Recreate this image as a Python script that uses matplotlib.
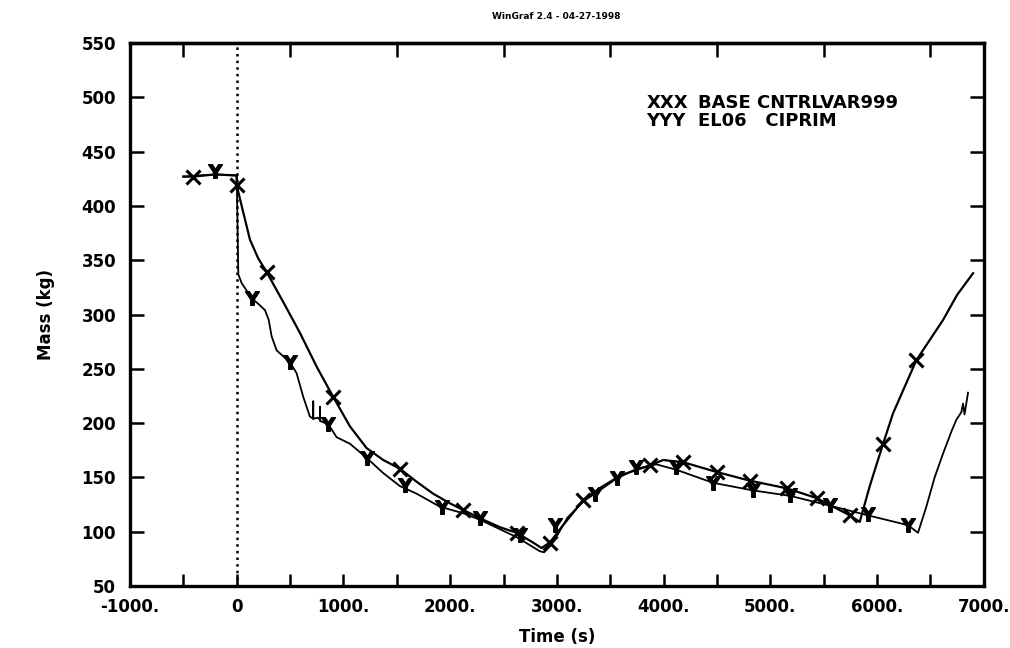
import numpy as np
import matplotlib
matplotlib.use('Agg')
import matplotlib.pyplot as plt

plt.rcParams['font.family'] = ['DejaVu Sans']
plt.rcParams['font.weight'] = 'bold'

# BASE CNTRLVAR999 (XXX)
base_t = [-500, -410, -200, 0, 0, 49, 124, 200, 281, 450, 593, 749, 905, 1061, 1217, 1373,
          1529, 1686, 1841, 2000, 2122, 2310, 2470, 2623, 2777, 2856, 2934, 3050, 3247, 3400,
          3600, 3871, 3996, 4183, 4496, 4808, 5152, 5433, 5745, 5838, 5932, 6057, 6150, 6369,
          6619, 6750, 6900]
base_m = [427, 427, 429, 428, 419, 399, 369, 352, 339, 309, 283, 252, 224, 197, 177, 166,
          158, 146, 135, 126, 120, 111, 104, 99, 90, 85, 90, 105, 129, 140,
          152, 161, 166, 164, 155, 147, 140, 131, 115, 109, 142, 181, 209, 258,
          295, 318, 338]
base_mk_t = [-410, 0, 281, 905, 1529, 2122, 2623, 2934, 3247, 3871, 4183, 4496, 4808, 5152,
             5433, 5745, 6057, 6369]
base_mk_m = [427, 419, 339, 224, 158, 120, 99, 90, 129, 161, 164, 155, 147, 140,
             131, 115, 181, 258]

# EL06 CIPRIM (YYY)
el06_t = [-500, -200, 0, 15, 46, 140, 200, 265, 300, 327, 374, 499, 561, 624, 686, 717, 717,
          717, 760, 780, 780, 780, 858, 936, 1061, 1217, 1373, 1529, 1686, 1904, 2122, 2279,
          2623, 2841, 2880, 2950, 3000, 3100, 3250, 3400, 3560, 3750, 3933, 4120, 4464, 4839,
          5185, 5558, 5917, 6291, 6384, 6462, 6540, 6619, 6700, 6743, 6790, 6806, 6820, 6853]
el06_m = [427, 429, 428, 337, 329, 315, 310, 304, 295, 280, 267, 256, 246, 224, 206, 204, 220,
          204, 205, 203, 215, 202, 199, 187, 181, 168, 154, 142, 135, 123, 117, 111,
          95, 82, 81, 88, 96, 113, 128, 138, 149, 158, 162, 157, 145, 138,
          133, 124, 115, 106, 99, 123, 150, 172, 193, 203, 210, 218, 208, 228]
el06_mk_t = [-204, 140, 499, 858, 1217, 1576, 1920, 2279, 2650, 2981, 3356, 3559, 3746, 4120,
             4464, 4839, 5185, 5558, 5917, 6291]
el06_mk_m = [432, 315, 256, 199, 168, 143, 123, 113, 97, 106, 135, 149, 160, 160,
             145, 138, 134, 125, 116, 106]

x_major = [-1000, 0, 1000, 2000, 3000, 4000, 5000, 6000, 7000]
x_labels = ['-1000.', '0', '1000.', '2000.', '3000.', '4000.', '5000.', '6000.', '7000.']
x_top = [-500, 500, 1500, 2500, 3500, 4500, 5500, 6500]
y_major = [50, 100, 150, 200, 250, 300, 350, 400, 450, 500, 550]

fig = plt.figure(figsize=(10.1, 6.48), dpi=100)
ax = fig.add_axes([0.1287, 0.0957, 0.8453, 0.8379])

ax.plot(base_t, base_m, color='black', lw=1.6)
ax.plot(base_mk_t, base_mk_m, ls='none', marker='x', ms=10, mew=2.2, color='black')
ax.plot(el06_t, el06_m, color='black', lw=1.3)
ax.plot(el06_mk_t, el06_mk_m, ls='none', marker=r'$\mathrm{Y}$', ms=10, color='black')

ax.axvline(0, color='black', ls=':', lw=1.8)

ax.set_xlim(-1000, 7000)
ax.set_ylim(50, 550)
ax.set_xticks(x_major)
ax.set_xticklabels(x_labels)
ax.set_xticks(np.arange(-500, 7000, 1000), minor=True)
ax.set_yticks(y_major)
ax.tick_params(axis='x', which='both', direction='in', length=9, width=1.8, pad=9, labelsize=12)
ax.tick_params(axis='y', direction='in', length=10, width=1.8, pad=10, labelsize=12,
               right=True)
for sp in ax.spines.values():
    sp.set_linewidth(2.4)

top = ax.secondary_xaxis('top')
top.set_xticks(x_top)
top.tick_params(direction='in', length=10, width=1.8, labeltop=False)
top.spines['top'].set_linewidth(2.4)

ax.set_xlabel('Time (s)', fontsize=12, fontweight='bold', labelpad=8)
ax.set_ylabel('Mass (kg)', fontsize=12, fontweight='bold')
ax.yaxis.set_label_coords(-0.088, 0.5)

fig.text(0.551, 0.975, 'WinGraf 2.4 - 04-27-1998', fontsize=6.5, fontweight='bold',
         ha='center', va='center')

# legend written as plain text, like the original plot
fig.text(0.640, 0.841, 'XXX', fontsize=13, fontweight='bold', va='center')
fig.text(0.691, 0.841, 'BASE CNTRLVAR999', fontsize=13, fontweight='bold', va='center')
fig.text(0.640, 0.813, 'YYY', fontsize=13, fontweight='bold', va='center')
fig.text(0.691, 0.813, 'EL06   CIPRIM', fontsize=13, fontweight='bold', va='center')

fig.savefig('out.png', dpi=100)
